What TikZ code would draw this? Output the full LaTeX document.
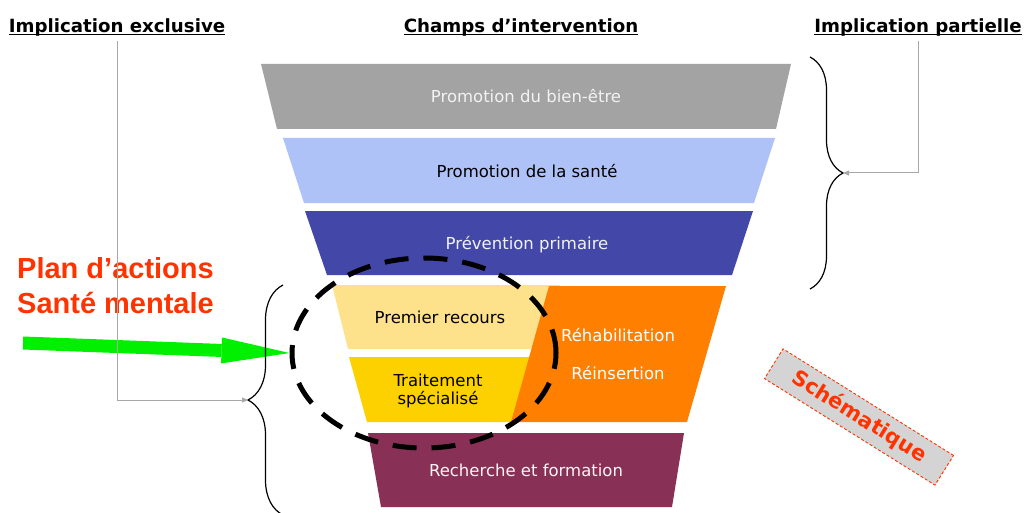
\documentclass[tikz,border=0pt]{standalone}
\usepackage{fontspec}
\setmainfont{DejaVu Sans}
\newfontfamily\arialfont{Liberation Sans}
\usetikzlibrary{decorations.pathreplacing,shapes.geometric,arrows.meta,positioning}

\definecolor{bandgrey}{HTML}{A3A3A3}
\definecolor{bandsky}{HTML}{AFC2F8}
\definecolor{bandnavy}{HTML}{4348A8}
\definecolor{bandcream}{HTML}{FDE18B}
\definecolor{bandgold}{HTML}{FDD100}
\definecolor{bandorange}{HTML}{FF7F00}
\definecolor{bandwine}{HTML}{883055}
\definecolor{planred}{HTML}{FF3300}
\definecolor{planGreen}{HTML}{00F000}
\definecolor{linkgrey}{HTML}{A8A8A8}
\definecolor{stampgrey}{HTML}{D4D4D4}

\newcommand{\ulined}[1]{\setbox0\hbox{#1}\rlap{\rule[-2.4pt]{\wd0}{1.6pt}}\box0}

\tikzset{
	lbl/.style={font=\fontsize{16.5}{18.3}\selectfont, align=center},
	hdr/.style={font=\fontsize{18.2}{22}\selectfont\bfseries, anchor=base, inner sep=4pt},
	link/.style={draw=linkgrey, line width=1pt, -{Triangle[length=6pt,width=5pt]}},
	brace/.style={decorate, line width=1.2pt}
}

\begin{document}
\begin{tikzpicture}[x=1pt,y=-1pt]
	\useasboundingbox (0,0) rectangle (1024,513);

	% headings
	\node[hdr] (exclu) at (117,33) {\ulined{Implication exclusive}};
	\node[hdr] (champs) at (521,33) {\ulined{Champs d’intervention}};
	\node[hdr] (partiel) at (918,33) {\ulined{Implication partielle}};

	% funnel
	\fill[bandgrey] (261,64) -- (791,64) -- (776,129) -- (277,129) -- cycle;
	\node[lbl, anchor=base, text=white!95!black] (bienetre) at (526,103) {Promotion du bien-être};
	\fill[bandsky] (283,138) -- (775,138) -- (754,203) -- (304,203) -- cycle;
	\node[lbl, anchor=base] (sante) at (527,177) {Promotion de la santé};
	\fill[bandnavy] (305,211) -- (753,211) -- (732,275) -- (327,275) -- cycle;
	\node[lbl, anchor=base, text=white!95!black] (prevention) at (527,249) {Prévention primaire};

	\fill[bandcream] (332,285) -- (560,285) -- (540,349) -- (348,349) -- cycle;
	\node[lbl, anchor=base] (recours) at (440,323) {Premier recours};
	\fill[bandgold] (349,357) -- (540,357) -- (520,422) -- (367,422) -- cycle;
	\node[lbl] (traitement) at (438,391) {Traitement\\spécialisé};
	\fill[bandorange] (549,286) -- (726,286) -- (687,422) -- (511,422) -- cycle;
	\node[lbl, anchor=base, text=white] (rehab) at (618,341) {Réhabilitation};
	\node[lbl, anchor=base, text=white] (reins) at (618,379) {Réinsertion};
	\fill[bandwine] (368,433) -- (684,433) -- (672,507) -- (381,507) -- cycle;
	\node[lbl, anchor=base, text=white!95!bandwine] (recherche) at (526,476) {Recherche et formation};

	% action plan
	\node[draw, ellipse, line width=5pt, dash pattern=on 24pt off 15pt, minimum width=264pt, minimum height=190pt] (focus) at (424,353) {};
	\node[anchor=north west, inner sep=0pt, align=left, text=planred, font=\arialfont\bfseries\fontsize{29}{35}\selectfont] (plan) at (17,257) {Plan d’actions\\Santé mentale};
	\coordinate (gstart) at (23,343);
	\draw[draw=planGreen, line width=13pt, -{Triangle[length=68pt,width=26pt,line width=0pt]}] (gstart) -- (focus.west);

	% braces and links
	\draw[brace, decoration={brace, amplitude=33pt}] (810,57) -- (810,289);
	\draw[brace, decoration={brace, mirror, amplitude=35pt}] (283,285) -- (283,515);
	\coordinate (rtip) at (843,173);
	\coordinate (ltip) at (248,400);
	\draw[link] (exclu.south) |- (ltip);
	\draw[link] (partiel.south) |- (rtip);

	\node[rotate=-32, fill=stampgrey, draw=planred, line width=0.9pt, dash pattern=on 3pt off 2pt, minimum width=201pt, minimum height=35pt, text=planred, font=\fontsize{21}{24}\selectfont\bfseries] (stamp) at (859,417) {Schématique};
\end{tikzpicture}
\end{document}
